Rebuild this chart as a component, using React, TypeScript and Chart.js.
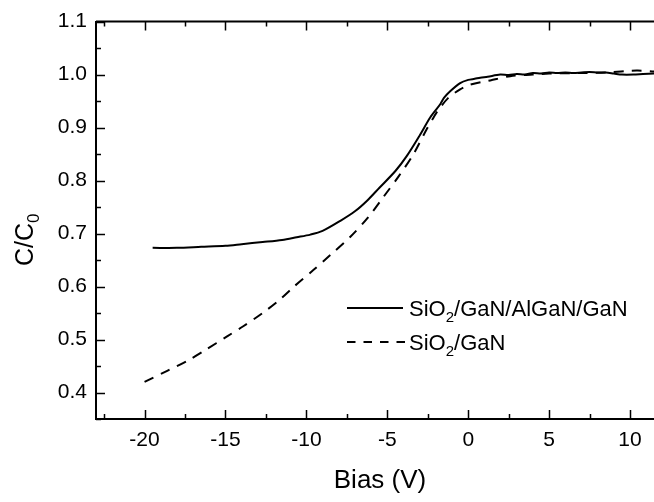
import React, { useEffect, useRef } from 'react';
import { Chart, registerables } from 'chart.js';
Chart.register(...registerables);

// SiO2/GaN/AlGaN/GaN (solid)
const solidBias = [-19.5, -18, -16.5, -15, -14, -12.7, -11.5, -10.6, -9.75, -9, -7.9, -7, -6.25, -5.5, -4.5, -3.78, -3, -2.35, -1.73, -1.5, -1.1, -0.5, 0, 0.4, 0.74, 1.2, 1.98, 2.5, 3, 3.5, 4, 4.5, 5, 5.5, 6, 6.5, 7, 7.5, 8, 8.5, 9, 9.5, 10.2, 10.8, 11.5];
const solidCap = [0.673, 0.673, 0.675, 0.677, 0.68, 0.684, 0.688, 0.693, 0.698, 0.705, 0.724, 0.742, 0.762, 0.786, 0.818, 0.847, 0.885, 0.919, 0.944, 0.956, 0.969, 0.984, 0.99, 0.992, 0.994, 0.996, 1.0, 0.999, 1.001, 1.0, 1.003, 1.002, 1.004, 1.003, 1.004, 1.003, 1.004, 1.005, 1.004, 1.004, 1.002, 1.0, 1.0, 1.001, 1.002];

// SiO2/GaN (dashed)
const dashBias = [-20, -18.6, -17.4, -16.2, -14.9, -13.9, -12.7, -11.65, -10.8, -9.57, -8.5, -7.28, -6.2, -5.24, -4.3, -3.38, -2.6, -2.14, -1.9, -1.23, -0.5, 0.12, 1.36, 2.6, 4, 5, 7, 8.5, 10.4, 11.5];
const dashCap = [0.42, 0.441, 0.459, 0.481, 0.506, 0.525, 0.55, 0.575, 0.599, 0.631, 0.66, 0.694, 0.73, 0.769, 0.808, 0.85, 0.895, 0.919, 0.931, 0.956, 0.972, 0.981, 0.989, 0.997, 1.0, 1.002, 1.003, 1.004, 1.0075, 1.006];

// legend labels: [main, subscript, rest]
const legendSolid = ['SiO', '2', '/GaN/AlGaN/GaN'];
const legendDash = ['SiO', '2', '/GaN'];
const yTitle = ['C/C', '0'];
const xTitle = 'Bias (V)';

const FONT = "'Liberation Sans', Arial, Helvetica, sans-serif";

const isMult = (v: number, step: number) => Math.abs(Math.round(v / step) * step - v) < 1e-6;

function drawSubText(ctx: CanvasRenderingContext2D, parts: string[], x: number, y: number, size: number, subSize: number, subDy: number) {
  ctx.font = `${size}px ${FONT}`;
  ctx.fillText(parts[0], x, y);
  let cx = x + ctx.measureText(parts[0]).width;
  ctx.font = `${subSize}px ${FONT}`;
  ctx.fillText(parts[1], cx, y + subDy);
  cx += ctx.measureText(parts[1]).width;
  if (parts[2]) {
    ctx.font = `${size}px ${FONT}`;
    ctx.fillText(parts[2], cx, y);
  }
}

const framePlugin = {
  id: 'frame',
  afterDraw(chart: any) {
    const { ctx, chartArea, scales } = chart;
    const { left, right, top, bottom } = chartArea;
    ctx.save();
    ctx.strokeStyle = '#000';
    ctx.lineWidth = 2;
    ctx.beginPath();
    ctx.moveTo(left, top);
    ctx.lineTo(right, top);
    ctx.stroke();
    ctx.lineWidth = 1.5;
    scales.x.ticks.forEach((t: any) => {
      const px = Math.round(scales.x.getPixelForValue(t.value)) + 0.5;
      const len = isMult(t.value, 5) ? 9 : 5;
      ctx.beginPath();
      ctx.moveTo(px, bottom);
      ctx.lineTo(px, bottom - len);
      ctx.moveTo(px, top);
      ctx.lineTo(px, top + len);
      ctx.stroke();
    });
    scales.y.ticks.forEach((t: any) => {
      const py = Math.round(scales.y.getPixelForValue(t.value)) + 0.5;
      const len = isMult(t.value, 0.1) ? 9 : 5;
      ctx.beginPath();
      ctx.moveTo(left, py);
      ctx.lineTo(left + len, py);
      ctx.stroke();
    });

    ctx.fillStyle = '#000';
    // x title
    ctx.font = `26px ${FONT}`;
    ctx.textAlign = 'center';
    ctx.textBaseline = 'middle';
    ctx.fillText(xTitle, 380, 481);

    // y title with subscript
    ctx.textBaseline = 'alphabetic';
    ctx.textAlign = 'left';
    ctx.save();
    ctx.translate(33, 266);
    ctx.rotate(-Math.PI / 2);
    drawSubText(ctx, yTitle, 0, 0, 25, 17, 6);
    ctx.restore();

    // legend
    ctx.lineWidth = 2;
    ctx.beginPath();
    ctx.moveTo(347, 308);
    ctx.lineTo(403, 308);
    ctx.stroke();
    ctx.setLineDash([8.5, 8]);
    ctx.beginPath();
    ctx.moveTo(347, 342);
    ctx.lineTo(407, 342);
    ctx.stroke();
    ctx.setLineDash([]);
    drawSubText(ctx, legendSolid, 409, 316, 22, 15, 6);
    drawSubText(ctx, legendDash, 409, 350, 22, 15, 6);
    ctx.restore();
  },
};

export default function App() {
  const ref = useRef<HTMLCanvasElement>(null);
  useEffect(() => {
    const chart = new Chart(ref.current!, {
      type: 'line',
      data: {
        datasets: [
          {
            label: 'SiO2/GaN/AlGaN/GaN',
            data: solidBias.map((x, i) => ({ x, y: solidCap[i] })),
            borderColor: '#000',
            borderWidth: 2,
            pointRadius: 0,
            fill: false,
            tension: 0.3,
          },
          {
            label: 'SiO2/GaN',
            data: dashBias.map((x, i) => ({ x, y: dashCap[i] })),
            borderColor: '#000',
            borderWidth: 2,
            borderDash: [10, 8],
            pointRadius: 0,
            fill: false,
            tension: 0.3,
          },
        ],
      },
      options: {
        responsive: false,
        animation: false,
        devicePixelRatio: 1,
        layout: { padding: { top: 20, left: 0, right: 0, bottom: 0 } },
        plugins: { legend: { display: false }, tooltip: { enabled: false } },
        scales: {
          x: {
            type: 'linear',
            min: -23,
            max: 11.48,
            afterFit: (s: any) => { s.height = 83; },
            grid: { display: false, drawTicks: false },
            border: { display: true, color: '#000', width: 2 },
            ticks: {
              stepSize: 2.5,
              includeBounds: false,
              autoSkip: false,
              maxRotation: 0,
              padding: 9,
              color: '#000',
              font: { size: 21, family: FONT },
              callback: (v: any) => (isMult(Number(v), 5) ? String(Math.round(Number(v))) : ''),
            },
          },
          y: {
            type: 'linear',
            min: 0.35,
            max: 1.1,
            afterFit: (s: any) => { s.width = 96; },
            grid: { display: false, drawTicks: false },
            border: { display: true, color: '#000', width: 2 },
            ticks: {
              stepSize: 0.05,
              includeBounds: false,
              autoSkip: false,
              padding: 9,
              color: '#000',
              font: { size: 21, family: FONT },
              callback: (v: any) => (isMult(Number(v), 0.1) ? Number(v).toFixed(1) : ''),
            },
          },
        },
      },
      plugins: [framePlugin],
    } as any);
    return () => chart.destroy();
  }, []);
  return (
    <div style={{ position: 'absolute', left: 0, top: 0, width: 654, height: 502, background: '#fff' }}>
      <canvas ref={ref} width={654} height={502} style={{ display: 'block' }} />
    </div>
  );
}
